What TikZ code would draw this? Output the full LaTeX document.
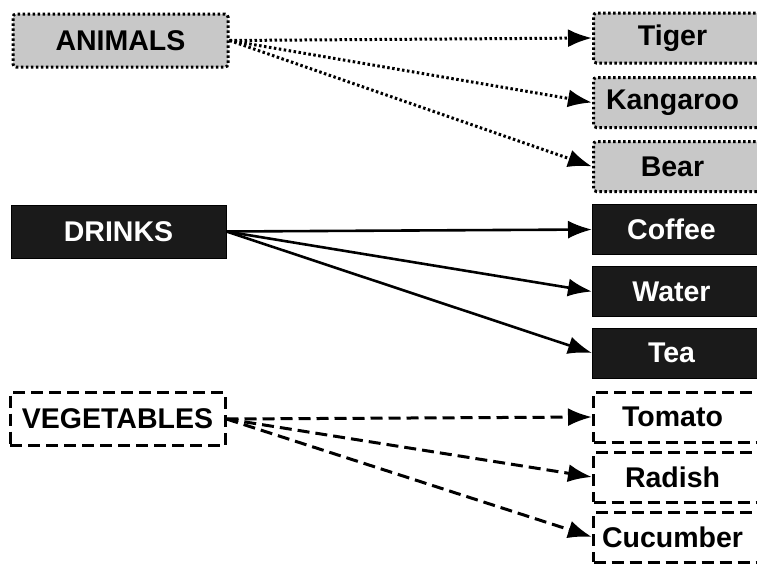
\documentclass[tikz,border=0pt]{standalone}
\usepackage{fontspec}
\setmainfont{Liberation Sans}
\usetikzlibrary{arrows.meta}
\definecolor{boxgray}{RGB}{200,200,200}
\definecolor{boxblack}{RGB}{26,26,26}

\begin{document}
\begin{tikzpicture}[x=1pt,y=-1pt,
    every node/.style={font=\fontsize{28.5}{31}\selectfont\bfseries, inner sep=0pt},
    grpbox/.style={minimum width=215pt, minimum height=53pt},
    itembox/.style={anchor=west, minimum width=180pt, minimum height=50pt},
    dotline/.style={line width=3pt, dash pattern=on 2.5pt off 2.5pt},
    dashline/.style={line width=3pt, dash pattern=on 12pt off 6pt},
    animal/.style={draw=black, fill=boxgray, dotline, rounded corners=3pt},
    drink/.style={draw=black, fill=boxblack, text=white, line width=1pt},
    veggie/.style={draw=black, fill=white, dashline},
    link/.style={-{Latex[length=24pt,width=18pt]}, line width=2.6pt},
  ]
  \path[use as bounding box, clip] (0,0) rectangle (757,563);

  % groups on the left
  \node[grpbox, animal] (animals) at (120.5,40.5) {ANIMALS};
  \node[grpbox, drink] (drinks) at (118.5,231.5) {DRINKS};
  \node[grpbox, veggie] (vegetables) at (117.5,419) {VEGETABLES};

  % items on the right
  \node[itembox, animal] (tiger) at (592,38) {Tiger\kern22pt};
  \node[itembox, animal] (kangaroo) at (592,102.5) {Kangaroo\kern22pt};
  \node[itembox, animal] (bear) at (592,166.5) {Bear\kern22pt};
  \node[itembox, drink] (coffee) at (592,229.5) {Coffee\kern22pt};
  \node[itembox, drink] (water) at (592,291.5) {Water\kern22pt};
  \node[itembox, drink] (tea) at (592,353) {Tea\kern22pt};
  \node[itembox, veggie] (tomato) at (592,417) {Tomato\kern22pt};
  \node[itembox, veggie] (radish) at (592,477) {Radish\kern22pt};
  \node[itembox, veggie] (cucumber) at (592,537) {Cucumber\kern22pt};

  % links
  \draw[link, dotline] (animals.east) -- (tiger.west);
  \draw[link, dotline] (animals.east) -- (kangaroo.west);
  \draw[link, dotline] (animals.east) -- (bear.west);
  \draw[link] (drinks.east) -- (coffee.west);
  \draw[link] (drinks.east) -- (water.west);
  \draw[link] (drinks.east) -- (tea.west);
  \draw[link, dashline] (vegetables.east) -- (tomato.west);
  \draw[link, dashline] (vegetables.east) -- (radish.west);
  \draw[link, dashline] (vegetables.east) -- (cucumber.west);
\end{tikzpicture}
\end{document}
